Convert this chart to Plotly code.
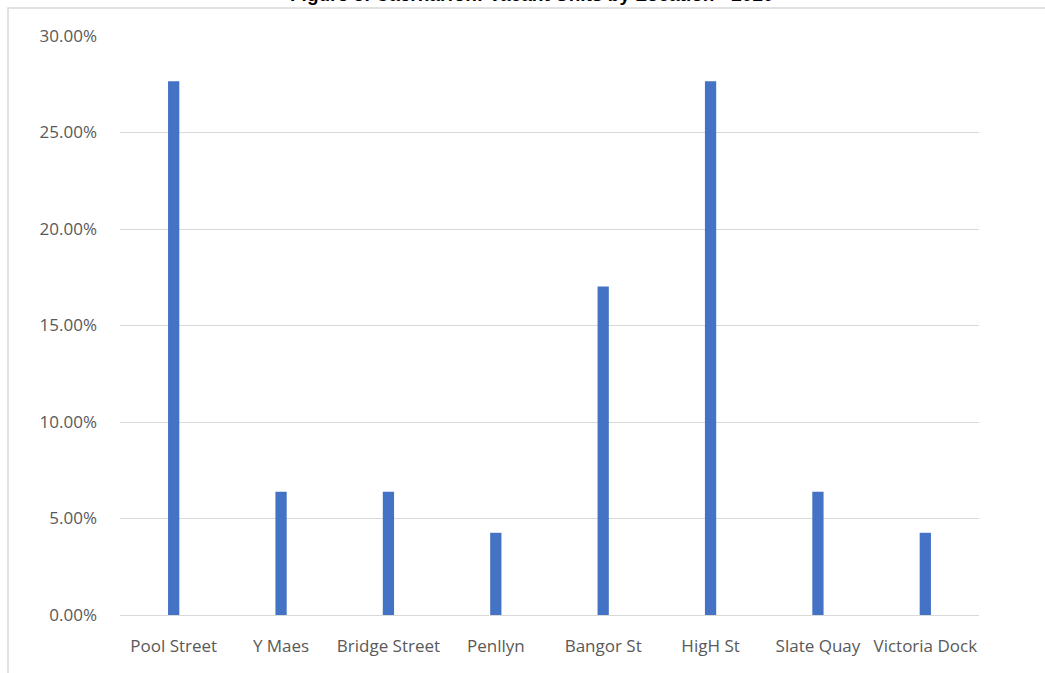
import plotly.graph_objects as go

categories = ["Pool Street", "Y Maes", "Bridge Street", "Penllyn",
              "Bangor St", "HigH St", "Slate Quay", "Victoria Dock"]
vacant_share = [0.2766, 0.0638, 0.0638, 0.0426, 0.1702, 0.2766, 0.0638, 0.0426]
y_ticks = [0, 0.05, 0.10, 0.15, 0.20, 0.25, 0.30]
title_text = "Figure 6: Caernarfon: Vacant Units by Location - 2020"

W, H = 1045, 673
L, R, T, B = 120, 1045 - 979, 36, 673 - 615
pw, ph = W - L - R, H - T - B

fig = go.Figure(go.Bar(
    x=categories, y=vacant_share,
    marker=dict(color="#4472C4", line=dict(width=0)),
    width=0.105,
))

font_family = "Open Sans, Lato, sans-serif"
fig.update_layout(
    width=W, height=H,
    margin=dict(l=L, r=R, t=T, b=B, pad=0),
    paper_bgcolor="white", plot_bgcolor="white",
    showlegend=False,
    font=dict(family=font_family, size=17, color="#595959"),
    xaxis=dict(showgrid=False, showline=False, ticks="", tickangle=0,
               tickfont=dict(size=17, color="#595959"), ticklabelstandoff=19),
    yaxis=dict(range=[0, 0.30], tickvals=y_ticks, tickformat=".2%",
               showgrid=True, gridcolor="#d9d9d9", gridwidth=1,
               zeroline=True, zerolinecolor="#d9d9d9", zerolinewidth=1,
               showline=False, ticks="",
               tickfont=dict(size=17, color="#595959"), ticklabelstandoff=22),
)

# chart frame (partially out of view, as in the cropped reference)
fig.add_shape(type="rect", xref="paper", yref="paper",
              x0=(8 - L) / pw, x1=(1100 - L) / pw,
              y0=-(700 - 615) / ph, y1=1 + (T - 8) / ph,
              line=dict(color="#d9d9d9", width=1.5), fillcolor="rgba(0,0,0,0)",
              layer="below")

fig.add_annotation(text="<b>" + title_text + "</b>", xref="paper", yref="paper",
                   x=(532 - L) / pw, y=1, xanchor="center", yanchor="bottom",
                   yshift=(T - 7), showarrow=False,
                   font=dict(family="Liberation Sans, Arial, sans-serif", size=19, color="black"))

fig.write_html("out.html")
